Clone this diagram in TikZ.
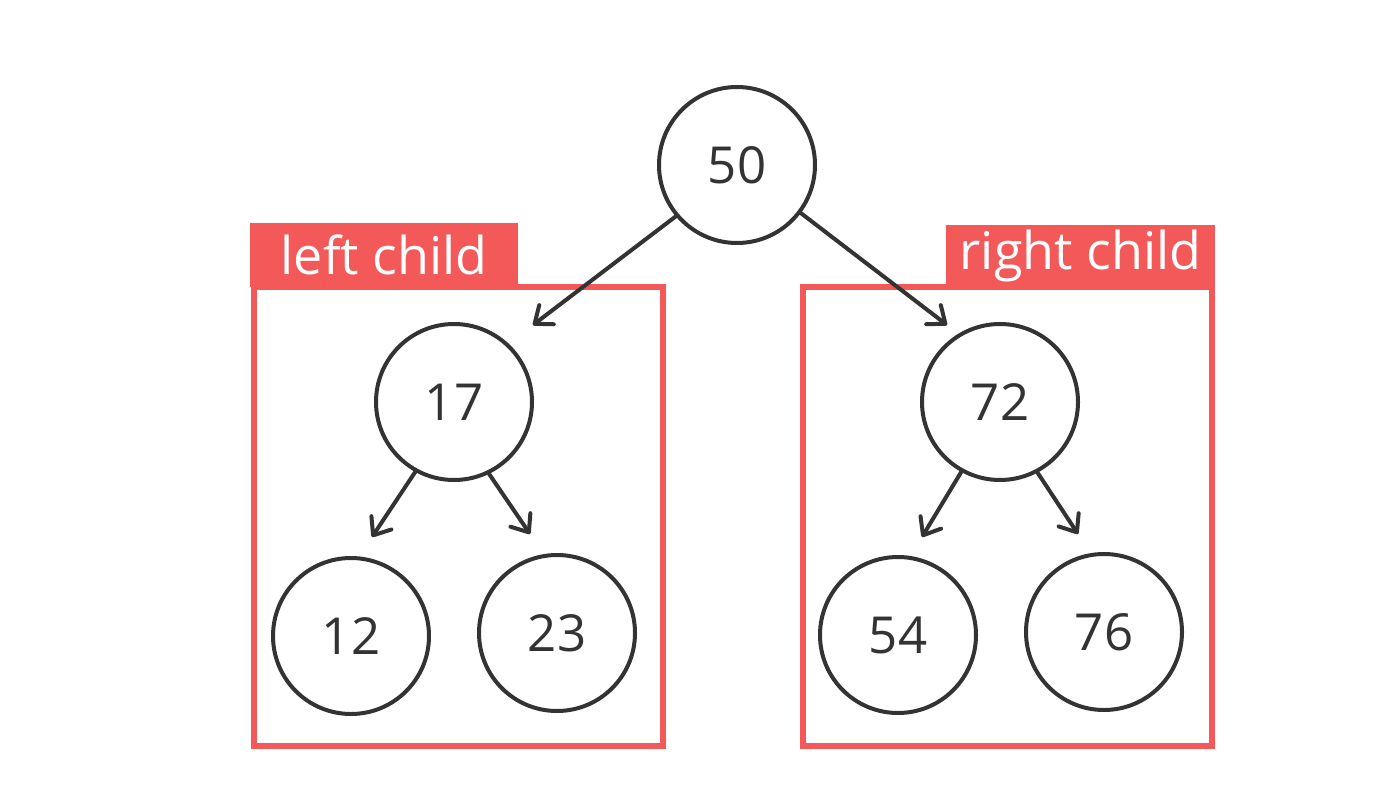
\documentclass[tikz,border=0pt]{standalone}
\usepackage{fontspec}
\setmainfont{Open Sans}
\usetikzlibrary{arrows.meta}
\definecolor{boxred}{RGB}{244,89,89}
\definecolor{ink}{RGB}{51,51,51}
\tikzset{
  treenode/.style={circle, draw=ink, line width=4pt, minimum size=156pt, inner sep=0pt, text=ink, font=\fontsize{51}{60}\selectfont},
  arr/.style={draw=ink, line width=4pt, line cap=round, -{Straight Barb[length=15pt,width=24pt,round]}},
  groupbox/.style={draw=boxred, line width=6pt},
  tab/.style={fill=boxred, text=white, inner sep=0pt, font=\fontsize{52}{60}\selectfont}
}
\begin{document}
\begin{tikzpicture}[x=1pt,y=-1pt]
\useasboundingbox (0,0) rectangle (1400,787);
\fill[white] (0,0) rectangle (1400,787);
% group boxes
\draw[groupbox] (253.5,286.5) rectangle (663,745.5);
\draw[groupbox] (802.5,286.5) rectangle (1211.5,745.5);
\node[tab, minimum width=268pt, minimum height=64pt] (ltab) at (384,255) {left child};
\node[tab, minimum width=269pt, minimum height=62pt] (rtab) at (1080.5,256) {right child};
% nodes
\node[treenode] (n50) at (737,165) {50};
\node[treenode] (n17) at (454,402) {17};
\node[treenode] (n72) at (1000,402) {72};
\node[treenode] (n12) at (351,636) {12};
\node[treenode] (n23) at (557,633) {23};
\node[treenode] (n54) at (898,635) {54};
\node[treenode] (n76) at (1104,632) {76};
% arrow tips
\coordinate (t17) at (533,325);
\coordinate (t72) at (947,325);
\coordinate (t12) at (372,537);
\coordinate (t23) at (530,534);
\coordinate (t54) at (922,537);
\coordinate (t76) at (1078,534);
% connectors
\draw[arr] (n50.220) -- (t17);
\draw[arr] (n50.323.6) -- (t72);
\draw[arr] (n17.241.2) -- (t12);
\draw[arr] (n17.296.2) -- (t23);
\draw[arr] (n72.241.8) -- (t54);
\draw[arr] (n72.298.2) -- (t76);
\end{tikzpicture}
\end{document}
